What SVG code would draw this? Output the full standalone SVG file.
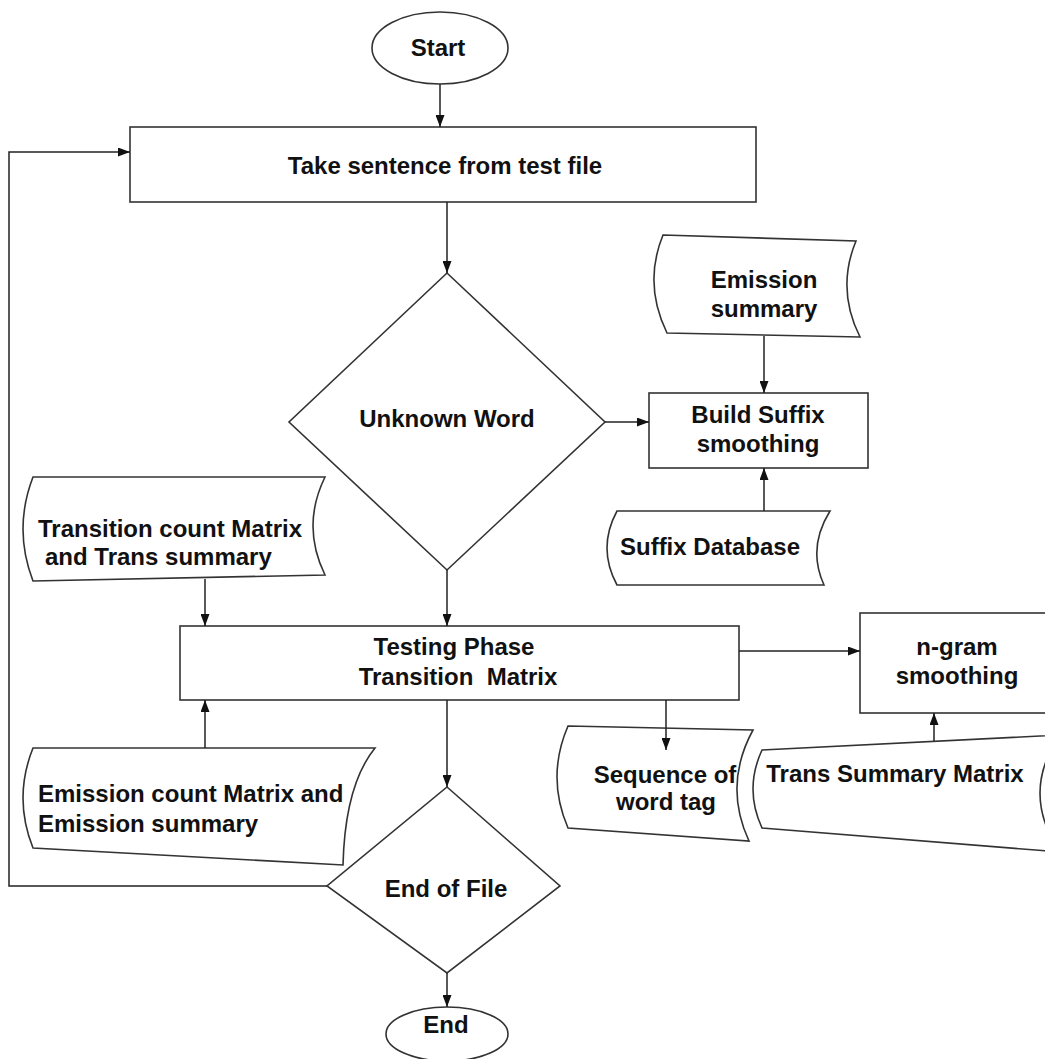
<svg xmlns="http://www.w3.org/2000/svg" width="1045" height="1059" viewBox="0 0 1045 1059">
<defs>
<marker id="arr" markerUnits="userSpaceOnUse" markerWidth="12" markerHeight="9" refX="12" refY="4.5" orient="auto">
<path d="M0,0 L12,4.5 L0,9 z" fill="#111"/>
</marker>
<style>
.sh{fill:#fff;stroke:#333;stroke-width:1.6}
.t{font-family:"Liberation Sans",Arial,sans-serif;font-weight:bold;font-size:24px;fill:#111}
.m{text-anchor:middle}
.c{fill:none;stroke:#222;stroke-width:1.5;marker-end:url(#arr)}
</style>
</defs>
<rect width="1045" height="1059" fill="#fff"/>
<g id="start"><ellipse class="sh" cx="440" cy="48" rx="68" ry="36"/><text class="t m" x="438" y="56">Start</text></g>
<g id="take"><rect class="sh" x="130" y="127" width="626" height="75"/><text class="t m" x="445" y="174">Take sentence from test file</text></g>
<g id="unknown"><path class="sh" d="M447,273 L605,422 L447,570 L289,422 Z"/><text class="t m" x="447" y="427">Unknown Word</text></g>
<g id="emission-summary"><path class="sh" d="M663,235 L856,241 Q836,289 860,337 L667,333 Q643,284 663,235 Z"/><text class="t m" x="764" y="288">Emission</text><text class="t m" x="764" y="317">summary</text></g>
<g id="build-suffix"><rect class="sh" x="649" y="393" width="219" height="75"/><text class="t m" x="758" y="423">Build Suffix</text><text class="t m" x="758" y="452">smoothing</text></g>
<g id="suffix-db"><path class="sh" d="M617,511 L830,511 Q807,548 824,585 L617,585 Q597,548 617,511 Z"/><text class="t m" x="710" y="555">Suffix Database</text></g>
<g id="transition-count"><path class="sh" d="M33,477 L325,477 Q301,526 325,575 L33,581 Q13,529 33,477 Z"/><text class="t" x="38" y="537">Transition count Matrix</text><text class="t" x="45" y="565">and Trans summary</text></g>
<g id="testing"><rect class="sh" x="180" y="626" width="559" height="74"/><text class="t m" x="454" y="655">Testing Phase</text><text class="t m" x="458" y="685" xml:space="preserve">Transition  Matrix</text></g>
<g id="ngram"><rect class="sh" x="860" y="613" width="200" height="100"/><text class="t m" x="957" y="655">n-gram</text><text class="t m" x="957" y="684">smoothing</text></g>
<g id="sequence"><path class="sh" d="M568,726 L753,730 Q723,785 749,841 L568,828 Q546,777 568,726 Z"/><text class="t m" x="665" y="783">Sequence of</text><text class="t m" x="666" y="810">word tag</text></g>
<g id="trans-summary"><path class="sh" d="M762,750 L1060,735 Q1020,793 1060,852 L762,828 Q744,789 762,750 Z"/><text class="t m" x="895" y="782">Trans Summary Matrix</text></g>
<g id="emission-count"><path class="sh" d="M33,748 L375,748 Q345,785 343,865 L33,848 Q13,798 33,748 Z"/><text class="t" x="38" y="802">Emission count Matrix and</text><text class="t" x="38" y="832">Emission summary</text></g>
<g id="eof"><path class="sh" d="M447,787 L560,886 L447,973 L327,886 Z"/><text class="t m" x="446" y="897">End of File</text></g>
<g id="end"><ellipse class="sh" cx="447" cy="1034" rx="61" ry="27"/><text class="t m" x="446" y="1033">End</text></g>
<g id="connectors">
<path class="c" d="M440,84 L440,127"/>
<path class="c" d="M447,202 L447,273"/>
<path class="c" d="M605,422 L649,422"/>
<path class="c" d="M764,336 L764,393"/>
<path class="c" d="M764,511 L764,468"/>
<path class="c" d="M447,570 L447,626"/>
<path class="c" d="M205,579 L205,626"/>
<path class="c" d="M205,748 L205,700"/>
<path class="c" d="M739,651 L860,651"/>
<path class="c" d="M447,700 L447,787"/>
<path class="c" d="M447,973 L447,1007"/>
<path class="c" d="M327,886 L9,886 L9,152 L130,152"/>
<path class="c" d="M666,700 L666,750"/>
<path class="c" d="M934,741 L934,713"/>
</g>
</svg>
